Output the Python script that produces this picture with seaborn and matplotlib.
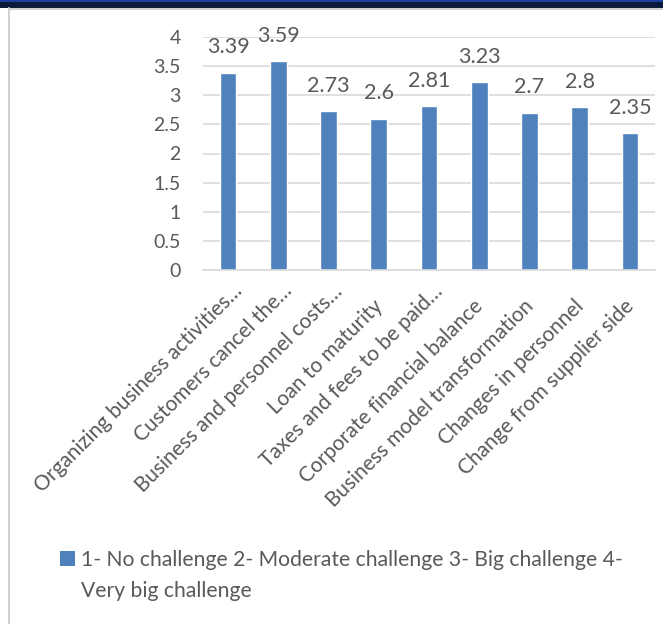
import matplotlib
matplotlib.use("Agg")
import matplotlib.pyplot as plt
import matplotlib.transforms as mtrans
import seaborn as sns
import pandas as pd
from matplotlib.patches import Rectangle
from matplotlib.lines import Line2D

categories = [
    "Organizing business activities…",
    "Customers cancel the…",
    "Business and personnel costs…",
    "Loan to maturity",
    "Taxes and fees to be paid…",
    "Corporate financial balance",
    "Business model transformation",
    "Changes in personnel",
    "Change from supplier side",
]
values = [3.39, 3.59, 2.73, 2.6, 2.81, 3.23, 2.7, 2.8, 2.35]
series_name = "1- No challenge 2- Moderate challenge 3- Big challenge 4-"
series_name_2 = "Very big challenge"
yticks = [0, 0.5, 1, 1.5, 2, 2.5, 3, 3.5, 4]

sns.set_theme(style="white")
plt.rcParams["font.family"] = ["Lato", "DejaVu Sans"]

BAR = "#4F81BD"
TXT = "#595959"
GRID = "#D9D9D9"

df = pd.DataFrame({"cat": categories, "val": values})

fig = plt.figure(figsize=(6.63, 6.24), dpi=100)
fig.patch.set_facecolor("white")

# decorative frame
fig.patches.append(Rectangle((0, 1 - 8 / 624), 1, 8 / 624, transform=fig.transFigure,
                             facecolor="#0A1A3A", edgecolor="none", zorder=0))
fig.patches.append(Rectangle((0, 1 - 2 / 624), 1, 2 / 624, transform=fig.transFigure,
                             facecolor="#1F3F9F", edgecolor="none", zorder=1))
fig.lines.append(Line2D([8.5 / 663, 8.5 / 663], [0, 1 - 8 / 624], transform=fig.transFigure,
                        color="#D0D0D0", lw=1.5))
fig.lines.append(Line2D([8.5 / 663, 1], [1 - 9 / 624, 1 - 9 / 624], transform=fig.transFigure,
                        color="#D0D0D0", lw=1.5))

ax = fig.add_axes([203 / 663, 1 - 270 / 624, (655 - 203) / 663, (270 - 37) / 624])
sns.barplot(data=df, x="cat", y="val", color=BAR, width=0.33, ax=ax, saturation=1)

ax.set_ylim(0, 4)
ax.set_xlim(-0.5, len(categories) - 0.5)
ax.set_yticks(yticks)
ax.set_yticklabels([f"{t:g}" for t in yticks], color=TXT, fontsize=14)
ax.yaxis.grid(True, color=GRID, lw=1.2)
ax.set_axisbelow(True)
for s in ["top", "right", "left"]:
    ax.spines[s].set_visible(False)
ax.spines["bottom"].set_color(GRID)
ax.spines["bottom"].set_linewidth(1.2)
ax.tick_params(axis="y", length=0, pad=16)
ax.tick_params(axis="x", length=0, pad=13)
ax.set_xlabel("")
ax.set_ylabel("")

ax.set_xticks(range(len(categories)))
ax.set_xticklabels(categories, rotation=45, ha="right", va="center",
                   rotation_mode="anchor", color=TXT, fontsize=15)
for lab in ax.get_xticklabels():
    if lab.get_text().endswith("…"):
        dx, dy = 11, 0
    else:
        dx, dy = 1, -15
    shift = mtrans.ScaledTranslation(dx / 100, dy / 100, fig.dpi_scale_trans)
    lab.set_transform(lab.get_transform() + shift)

for c in ax.containers:
    ax.bar_label(c, labels=[f"{v:g}" for v in values], padding=11, color=TXT, fontsize=15.5)

# legend
handle = Rectangle((0, 0), 1, 1, facecolor=BAR, edgecolor="none")
leg = fig.legend([handle], [series_name], loc="upper left",
                 bbox_to_anchor=(60 / 663, 1 - 550 / 624), frameon=False,
                 fontsize=15.2, handlelength=0.7, handleheight=0.7, handletextpad=0.3,
                 borderaxespad=0, borderpad=0)
for t in leg.get_texts():
    t.set_color(TXT)
fig.text(81 / 663, 1 - 597 / 624, series_name_2, color=TXT, fontsize=15.2,
         va="baseline", ha="left")

fig.savefig("out.png", dpi=100, facecolor="white")
